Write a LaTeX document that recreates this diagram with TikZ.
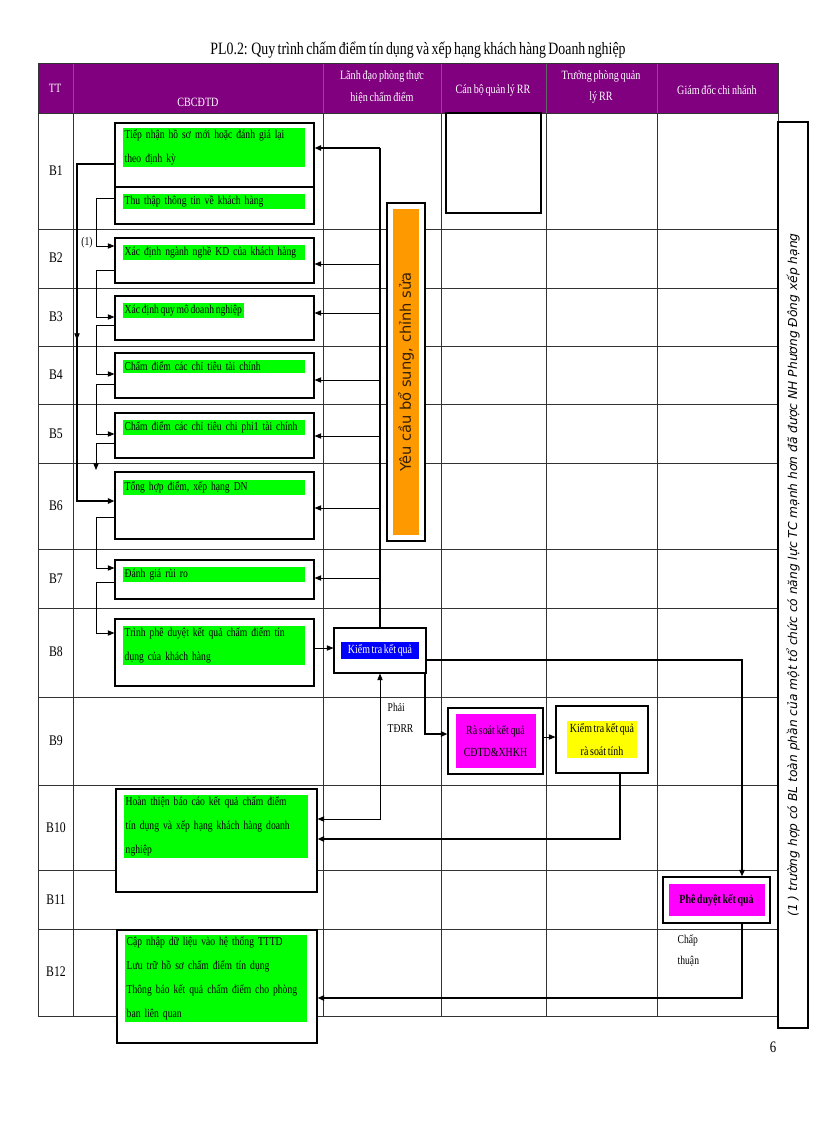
\documentclass[tikz,border=0pt]{standalone}
\usepackage{fontspec}
\setmainfont{Liberation Serif}
\newfontfamily\dvs{DejaVu Sans}
\newfontfamily\cond{Liberation Serif}[FakeStretch=0.8,WordSpace={0.7,0.2,0.2}]
\usetikzlibrary{arrows.meta,calc}
\definecolor{hdr}{HTML}{800080}
\definecolor{grn}{HTML}{00FF00}
\definecolor{mag}{HTML}{FF00FF}
\definecolor{yel}{HTML}{FFFF00}
\definecolor{org}{HTML}{FF9900}
\definecolor{blu}{HTML}{0000FF}
\begin{document}
\begin{tikzpicture}[x=0.75pt,y=-0.75pt,
  grid/.style={line width=0.6pt,draw=black!80},
  box/.style={draw,line width=0.8pt,fill=white,inner sep=0pt,minimum width=149.25pt},
  gtxt/.style={anchor=north west,fill=grn,inner sep=1.5pt,align=left,font=\cond\fontsize{9}{18}\selectfont},
  ctxt/.style={inner sep=2pt,align=center,font=\cond\fontsize{9.3}{17}\selectfont},
  lbl/.style={font=\cond\fontsize{9}{16}\selectfont,align=left},
  hd/.style={text=white,align=center,font=\cond\fontsize{9.5}{16}\selectfont},
  con/.style={line width=0.6pt,-{Triangle[length=5pt,width=4pt]}},
  tcon/.style={line width=1.3pt,-{Triangle[length=5pt,width=4pt]}},
  rowl/.style={font=\cond\fontsize{11}{12}\selectfont}]
\useasboundingbox (0,0) rectangle (816,1123);
% title
\node[font=\cond\fontsize{13}{15}\selectfont] (title) at (418,50) {PL0.2: Quy trình chấm điểm tín dụng và xếp hạng khách hàng Doanh nghiệp};
% header
\fill[hdr] (38,63) rectangle (778,113);
\foreach \x in {73,323,441,546,657} \draw[grid,draw=black!60] (\x,63) -- (\x,113);
\draw[grid] (38,63) rectangle (778,113);
\node[hd] (h0) at (55,88) {TT};
\node[hd] (h1) at (198,102) {CBCĐTD};
\node[hd] (h2) at (382,87) {Lãnh đạo phòng thực\\hiện chấm điểm};
\node[hd] (h3) at (493,90) {Cán bộ quản lý RR};
\node[hd] (h4) at (601,87) {Trưởng phòng quản\\lý RR};
\node[hd] (h5) at (717,90) {Giám đốc chi nhánh};
% grid
\foreach \y in {229,288,346,404,463,549,608,697,785,870,929} \draw[grid] (38,\y) -- (778,\y);
\foreach \x in {38,73,323,441,546,657,778} \draw[grid] (\x,113) -- (\x,1016);
\draw[grid] (38,1016) -- (778,1016);
% row labels
\foreach \t/\y in {B1/171,B2/258,B3/317,B4/375,B5/434,B6/506,B7/579,B8/652,B9/741,B10/828,B11/900,B12/972}
  \node[rowl] at (56,\y) {\t};
% empty box in Can bo column
\draw[line width=0.8pt] (446,113) rectangle (541,213);
% boxes
\node[box,minimum height=48pt] (b1a) at (214.5,155) {};
\node[box,minimum height=27.75pt] (b1b) at (214.5,205.5) {};
\node[box,minimum height=33.75pt] (b2) at (214.5,260.5) {};
\node[box,minimum height=33pt] (b3) at (214.5,318) {};
\node[box,minimum height=33.75pt] (b4) at (214.5,375.5) {};
\node[box,minimum height=33.75pt] (b5) at (214.5,435.5) {};
\node[box,minimum height=50.25pt] (b6) at (214.5,505.5) {};
\node[box,minimum height=29.25pt] (b7) at (214.5,579.5) {};
\node[box,minimum height=50.25pt] (b8) at (214.5,652.5) {};
\node[box,minimum width=150.75pt,minimum height=77.25pt] (b10) at (216.5,840.5) {};
\node[box,minimum width=150pt,minimum height=84.75pt] (b12) at (217,986.5) {};
\node[box,minimum width=69pt,minimum height=33.75pt] (kt) at (380,650.5) {};
\node[box,minimum width=71.25pt,minimum height=49.5pt] (rs) at (495.5,741) {};
\node[box,minimum width=69pt,minimum height=50.25pt] (kt2) at (602,739.5) {};
\node[box,minimum width=80.25pt,minimum height=34.5pt] (pd) at (716.5,900) {};
\node[box,minimum width=28.5pt,minimum height=253.5pt] (yc) at (406,372) {};
\node[box,minimum width=22.5pt,minimum height=679.5pt] (note) at (793,575) {};
% texts
\node[gtxt,text width=134pt] (t1a) at ([shift={(8,5)}]b1a.north west) {Tiếp nhận hồ sơ mới hoặc đánh giá lại\\theo định kỳ};
\node[gtxt,text width=134pt] (t1b) at ([shift={(8,7)}]b1b.north west) {Thu thập thông tin về khách hàng};
\node[gtxt,text width=134pt] (t2) at ([shift={(8,7)}]b2.north west) {Xác định ngành nghề KD của khách hàng};
\node[gtxt] (t3) at ([shift={(8,7)}]b3.north west) {Xác định quy mô doanh nghiệp};
\node[gtxt,text width=134pt] (t4) at ([shift={(8,7)}]b4.north west) {Chấm điểm các chỉ tiêu tài chính};
\node[gtxt,text width=134pt] (t5) at ([shift={(8,7)}]b5.north west) {Chấm điểm các chỉ tiêu chi phi1 tài chính};
\node[gtxt,text width=134pt] (t6) at ([shift={(8,8)}]b6.north west) {Tổng hợp điểm, xếp hạng DN};
\node[gtxt,text width=134pt] (t7) at ([shift={(8,7)}]b7.north west) {Đánh giá rủi ro};
\node[gtxt,text width=134pt] (t8) at ([shift={(8,7)}]b8.north west) {Trình phê duyệt kết quả chấm điểm tín\\dụng của khách hàng};
\node[gtxt,text width=135pt] (t10) at ([shift={(8,6)}]b10.north west) {Hoàn thiện báo cáo kết quả chấm điểm\\tín dụng và xếp hạng khách hàng doanh\\nghiệp};
\node[gtxt,text width=134pt] (t12) at ([shift={(8,5)}]b12.north west) {Cập nhập dữ liệu vào hệ thống TTTD\\Lưu trữ hồ sơ chấm điểm tín dụng\\Thông báo kết quả chấm điểm cho phòng\\ban liên quan};
\node[ctxt,fill=blu,text=white,minimum width=58pt] (tkt) at (kt) {Kiểm tra kết quả};
\node[ctxt,fill=mag,minimum width=60pt,minimum height=40pt] (trs) at (rs) {Rà soát kết quả\\CĐTD\&XHKH};
\node[ctxt,fill=yel] (tkt2) at (kt2) {Kiểm tra kết quả\\rà soát tính};
\node[ctxt,fill=mag,minimum width=72pt,minimum height=24pt,font=\cond\bfseries\fontsize{9.3}{17}\selectfont] (tpd) at (pd) {Phê duyệt kết quả};
\node[fill=org,minimum width=19.5pt,minimum height=244pt,inner sep=0pt] (oy) at (yc) {};
\node[rotate=90,font=\dvs\fontsize{11}{13}\selectfont,text=black!80!org] (ty) at (oy) {Yêu cầu bổ sung, chỉnh sửa};
\node[rotate=90,font=\dvs\itshape\fontsize{9.2}{11}\selectfont] (tn) at (note) {(1 ) trường hợp có BL toàn phần của một tổ chức có năng lực TC mạnh hơn đã được NH Phương Đông xếp hạng};
% labels
\node[lbl] (l1) at (87,243) {(1)};
\node[lbl,anchor=north west] (l2) at (383,698) {Phải\\TĐRR};
\node[lbl,anchor=north west] (l3) at (673,930) {Chấp\\thuận};
\node[font=\cond\fontsize{12}{13}\selectfont] (pg) at (773,1047) {6};
% left chain connectors
\draw[tcon] (b1a.west |- 0,164) -- (77,164) -- (77,501) -- (b6.west |- 0,501);
\draw[con] (77,300) -- (77,340);
\draw[con] (b1b.west |- 0,198) -- (96,198) -- (96,246) -- (b2.west |- 0,246);
\draw[con] (b2.west |- 0,270) -- (96,270) -- (96,317) -- (b3.west |- 0,317);
\draw[con] (b3.west |- 0,325) -- (96,325) -- (96,374) -- (b4.west |- 0,374);
\draw[con] (b4.west |- 0,384) -- (96,384) -- (96,434) -- (b5.west |- 0,434);
\draw[con] (b5.west |- 0,443) -- (96,443) -- (96,470);
\draw[con] (b6.west |- 0,517) -- (96,517) -- (96,568) -- (b7.west |- 0,568);
\draw[con] (b7.west |- 0,582) -- (96,582) -- (96,633) -- (b8.west |- 0,633);
\draw[con] (b8.east |- 0,648) -- (kt.west |- 0,648);
% feedback
\draw[line width=0.8pt] (kt.north) -- (380,148);
\draw[tcon] (380,148) -- (b1a.east |- 0,148);
\foreach \n/\y in {b2/264,b3/313,b4/380,b5/436,b6/508,b7/578}
  \draw[con] (380,\y) -- (\n.east |- 0,\y);
% right flows
\draw[tcon] (kt.east |- 0,660) -- (742,660) -- (pd.north -| 742,0);
\draw[tcon] (425,673) -- (425,734) -- (rs.west |- 0,734);
\draw[con] (rs.east |- 0,737) -- (kt2.west |- 0,737);
\draw[tcon] (kt2.south -| 620,0) -- (620,839) -- (b10.east |- 0,839);
\draw[con,{Triangle[length=5pt,width=4pt]}-{Triangle[length=5pt,width=4pt]}] (kt.south) -- (380,819) -- (b10.east |- 0,819);
\draw[tcon] (pd.south -| 742,0) -- (742,998) -- (b12.east |- 0,998);
\end{tikzpicture}
\end{document}
